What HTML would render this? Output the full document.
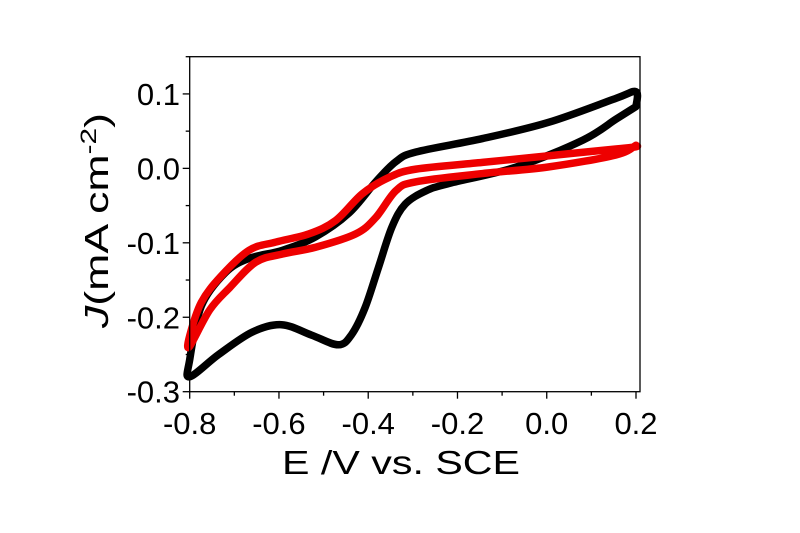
<!DOCTYPE html>
<html><head><meta charset="utf-8"><style>
html,body{margin:0;padding:0;background:#fff;}
svg{display:block;font-family:"Liberation Sans",Arial,sans-serif;}
</style></head><body>
<svg id="chart" width="800" height="533" viewBox="0 0 800 533">
<g id="plot"></g>
<g id="axes"></g>
<text x="282" y="474" font-size="33" textLength="238" lengthAdjust="spacingAndGlyphs">E /V vs. SCE</text>
<text transform="translate(108,328) rotate(-90)" font-size="33" textLength="215" lengthAdjust="spacingAndGlyphs"><tspan font-style="italic">J</tspan>(mA cm<tspan dy="-12" font-size="22">-2</tspan><tspan dy="12">)</tspan></text>
</svg>
<script>
const xTicks=[-0.8,-0.6,-0.4,-0.2,0.0,0.2];
const xTickLabels=["-0.8","-0.6","-0.4","-0.2","0.0","0.2"];
const yTicks=[-0.3,-0.2,-0.1,0.0,0.1];
const yTickLabels=["-0.3","-0.2","-0.1","0.0","0.1"];
const blackE=[0.2,0.155,0.081,-0.067,-0.217,-0.27,-0.317,-0.347,-0.377,-0.407,-0.437,-0.467,-0.527,-0.594,-0.66,-0.735,-0.8,-0.8,-0.774,-0.72,-0.667,-0.592,-0.518,-0.443,-0.383,-0.338,-0.293,-0.144,0.005,0.155,0.2,0.2];
const blackJ=[0.083,0.066,0.038,0.002,-0.02,-0.03,-0.048,-0.079,-0.133,-0.187,-0.223,-0.237,-0.224,-0.21,-0.22,-0.25,-0.28,-0.257,-0.185,-0.14,-0.121,-0.11,-0.092,-0.06,-0.018,0.009,0.022,0.04,0.062,0.094,0.103,0.083];
const redE=[0.2,0.155,0.005,-0.144,-0.293,-0.338,-0.383,-0.428,-0.518,-0.592,-0.652,-0.71,-0.755,-0.8,-0.8,-0.774,-0.73,-0.667,-0.607,-0.533,-0.473,-0.413,-0.353,-0.293,-0.144,0.005,0.155,0.2,0.2];
const redJ=[0.031,0.018,0.002,-0.007,-0.018,-0.03,-0.066,-0.088,-0.106,-0.115,-0.126,-0.16,-0.19,-0.239,-0.225,-0.18,-0.145,-0.11,-0.099,-0.088,-0.07,-0.034,-0.012,-0.001,0.008,0.017,0.026,0.029,0.031];
const L=189.7,R=640,T=56.7,B=391.7;
const xMin=-0.8,xMax=0.2+(640-636)/446.3,yMin=-0.3,yMax=0.15;
const sx=v=>L+(v-xMin)/(xMax-xMin)*(R-L);
const sy=v=>B-(v-yMin)/(yMax-yMin)*(B-T);
const NS="http://www.w3.org/2000/svg";
const plot=document.getElementById('plot'),axes=document.getElementById('axes');
function mk(tag,at,parent){const e=document.createElementNS(NS,tag);for(const k in at)e.setAttribute(k,at[k]);parent.appendChild(e);return e;}
function smooth(xs,ys){const p=xs.map((x,i)=>[sx(x),sy(ys[i])]);let d=`M${p[0][0]},${p[0][1]}`;
for(let i=0;i<p.length-1;i++){const p0=p[Math.max(0,i-1)],p1=p[i],p2=p[i+1],p3=p[Math.min(p.length-1,i+2)];
d+=` C${p1[0]+(p2[0]-p0[0])/6},${p1[1]+(p2[1]-p0[1])/6} ${p2[0]-(p3[0]-p1[0])/6},${p2[1]-(p3[1]-p1[1])/6} ${p2[0]},${p2[1]}`;}return d;}
const bl=mk('path',{d:smooth(blackE,blackJ),fill:'none',stroke:'#000','stroke-width':7.5,'stroke-linejoin':'round','stroke-linecap':'round'},plot);


const rd=mk('path',{d:smooth(redE,redJ),fill:'none',stroke:'#ee0000','stroke-width':7.5,'stroke-linejoin':'round','stroke-linecap':'round'},plot);


const fr=mk('rect',{x:L,y:T,width:R-L,height:B-T,fill:'none',stroke:'#000','stroke-width':1.3},axes);


xTicks.forEach((v,i)=>{const x=sx(v);mk('line',{x1:x,x2:x,y1:B,y2:B+7,stroke:'#000','stroke-width':1.3},axes);
if(i<xTicks.length-1){const xm=sx(v+0.1);mk('line',{x1:xm,x2:xm,y1:B,y2:B+4,stroke:'#000','stroke-width':1.3},axes);}
const t=mk('text',{x:x,y:434,'font-size':31,'text-anchor':'middle'},axes);t.textContent=xTickLabels[i];

});
yTicks.forEach((v,i)=>{const y=sy(v);mk('line',{x1:L-7,x2:L,y1:y,y2:y,stroke:'#000','stroke-width':1.3},axes);
const ym=sy(v+0.05);mk('line',{x1:L-4,x2:L,y1:ym,y2:ym,stroke:'#000','stroke-width':1.3},axes);
const t=mk('text',{x:180,y:y+11,'font-size':31,'text-anchor':'end'},axes);t.textContent=yTickLabels[i];

});
</script>
</body></html>
